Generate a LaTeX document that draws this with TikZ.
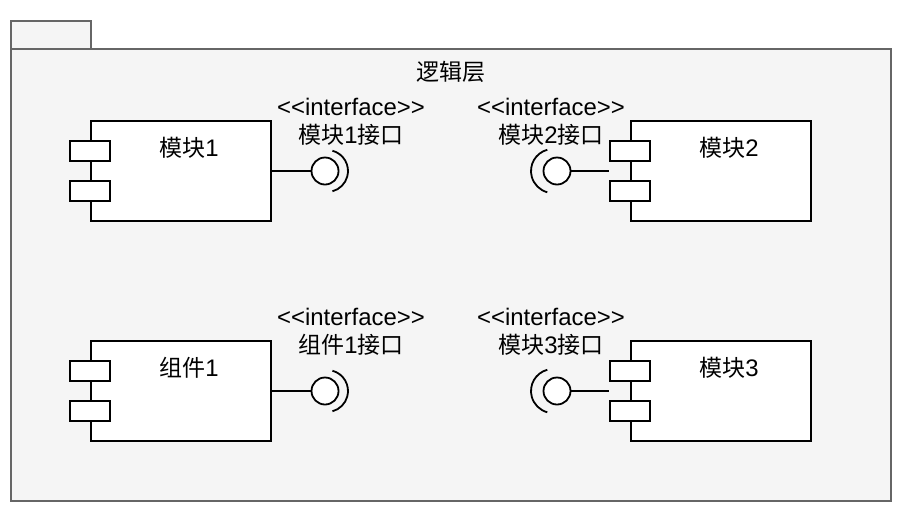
\documentclass[tikz,border=0pt]{standalone}
\usepackage{fontspec}
\setmainfont[Scale=1.04]{Liberation Sans}
\newfontfamily\cjk{Noto Sans CJK SC}
\definecolor{pkgfill}{HTML}{F5F5F5}
\definecolor{pkgline}{HTML}{666666}
\begin{document}
\begin{tikzpicture}[x=1pt,y=-1pt,
  every node/.style={font=\fontsize{23}{28}\selectfont, inner sep=0pt},
  pkg/.style={draw=pkgline, fill=pkgfill, line width=2pt},
  modbox/.style={draw=black, fill=white, line width=1.8pt, minimum width=180pt, minimum height=100pt},
  portbox/.style={draw=black, fill=white, line width=1.8pt, minimum width=40pt, minimum height=20pt},
  ball/.style={circle, draw=black, fill=white, line width=1.8pt, minimum size=27pt},
  wire/.style={draw=black, line width=1.8pt},
  lbl/.style={align=center, text=black}
]
\useasboundingbox (0,0) rectangle (904,520);
% package
\draw[pkg] (11,21) rectangle (91,49);
\draw[pkg] (11,49) rectangle (891,501);
\node[lbl] (title) at (451,72) {\cjk 逻辑层};

% components
\foreach \n/\cx/\cy in {m1/181/171, m2/721/171, m3/181/391, m4/721/391}{
  \node[modbox] (\n) at (\cx,\cy) {};
  \node[portbox] (\n a) at ([yshift=20pt]\n.west) {};
  \node[portbox] (\n b) at ([yshift=-20pt]\n.west) {};
}
\node[lbl] (t1) at (189,148) {{\cjk 模块}1};
\node[lbl] (t2) at (729,148) {{\cjk 模块}2};
\node[lbl] (t3) at (189,368) {{\cjk 组件}1};
\node[lbl] (t4) at (729,368) {{\cjk 模块}3};

% interfaces (ball + socket)
\node[ball] (c1) at (325,171) {};
\node[ball] (c2) at (557,171) {};
\node[ball] (c3) at (325,391) {};
\node[ball] (c4) at (557,391) {};

\draw[wire] (m1.east) -- (c1.west);
\draw[wire] (m3.east) -- (c3.west);
\draw[wire] (c2.east) -- (m2a.west |- c2.east);
\draw[wire] (c4.east) -- (m4a.west |- c4.east);

\draw[wire] ([xshift=2pt]c1.center) ++(75:21pt) arc[start angle=75, end angle=-75, radius=21pt];
\draw[wire] ([xshift=2pt]c3.center) ++(75:21pt) arc[start angle=75, end angle=-75, radius=21pt];
\draw[wire] ([xshift=-4pt]c2.center) ++(105:22pt) arc[start angle=105, end angle=255, radius=22pt];
\draw[wire] ([xshift=-4pt]c4.center) ++(105:22pt) arc[start angle=105, end angle=255, radius=22pt];

% interface labels
\node[lbl] (i1) at (351,122) {<{}<interface>{}>\\{\cjk 模块}1{\cjk 接口}};
\node[lbl] (i2) at (551,122) {<{}<interface>{}>\\{\cjk 模块}2{\cjk 接口}};
\node[lbl] (i3) at (351,332) {<{}<interface>{}>\\{\cjk 组件}1{\cjk 接口}};
\node[lbl] (i4) at (551,332) {<{}<interface>{}>\\{\cjk 模块}3{\cjk 接口}};
\end{tikzpicture}
\end{document}
